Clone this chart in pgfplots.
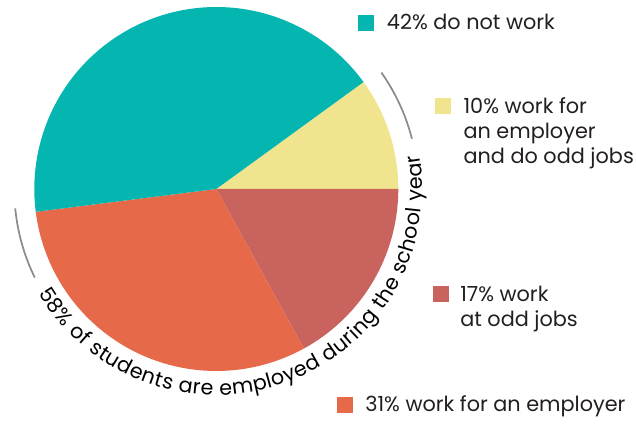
\documentclass[border=0pt]{standalone}
\usepackage{pgfplots}
\pgfplotsset{compat=1.18}
\usepackage{pgfplotstable}
\usepackage{fontspec}
\setmainfont{Poppins}
\usetikzlibrary{decorations.text}

\definecolor{cTeal}{RGB}{4,182,175}
\definecolor{cYellow}{RGB}{241,228,143}
\definecolor{cRed}{RGB}{200,99,93}
\definecolor{cOrange}{RGB}{230,106,74}
\definecolor{cArc}{RGB}{140,140,140}
\definecolor{cText}{RGB}{35,31,32}

\begin{document}
\begin{tikzpicture}[font=\fontsize{15.6}{18.75}\selectfont, text=cText]

  %% shares, clockwise from the teal/yellow border
  \pgfplotstableread{
    share
    10
    17
    31
    42
  }\piedata

  \pgfplotstablegetelem{0}{share}\of\piedata \let\sA\pgfplotsretval
  \pgfplotstablegetelem{1}{share}\of\piedata \let\sB\pgfplotsretval
  \pgfplotstablegetelem{2}{share}\of\piedata \let\sC\pgfplotsretval
  \pgfplotstablegetelem{3}{share}\of\piedata \let\sD\pgfplotsretval

  \def\cx{216.3}
  \def\cy{227}
  \def\rad{182}
  \pgfmathsetmacro\angA{36}
  \pgfmathsetmacro\angB{\angA-3.6*\sA}
  \pgfmathsetmacro\angC{\angB-3.6*\sB}
  \pgfmathsetmacro\angD{\angC-3.6*\sC}
  \pgfmathsetmacro\angE{\angD-3.6*\sD}

  \begin{axis}[
    scale only axis,
    width=477pt, height=312pt,
    xmin=0, xmax=636, ymin=0, ymax=416,
    hide axis, clip=false,
    ]

    \addplot [fill=cYellow, draw=none, domain=\angB:\angA, samples=60, variable=\t]
      ({\cx+\rad*cos(\t)},{\cy+\rad*sin(\t)}) -- (\cx,\cy) -- cycle;
    \addplot [fill=cRed, draw=none, domain=\angC:\angB, samples=60, variable=\t]
      ({\cx+\rad*cos(\t)},{\cy+\rad*sin(\t)}) -- (\cx,\cy) -- cycle;
    \addplot [fill=cOrange, draw=none, domain=\angD:\angC, samples=80, variable=\t]
      ({\cx+\rad*cos(\t)},{\cy+\rad*sin(\t)}) -- (\cx,\cy) -- cycle;
    \addplot [fill=cTeal, draw=none, domain=\angE:\angD, samples=100, variable=\t]
      ({\cx+\rad*cos(\t)},{\cy+\rad*sin(\t)}) -- (\cx,\cy) -- cycle;

    %% brackets for the 58%
    \addplot [cArc, line width=1.3pt, domain=185.5:206, samples=30, variable=\t]
      ({\cx+202*cos(\t)},{\cy+202*sin(\t)});
    \addplot [cArc, line width=1.3pt, domain=14.4:35.2, samples=30, variable=\t]
      ({\cx+202*cos(\t)},{\cy+202*sin(\t)});

    %% legend squares
    \addplot [only marks, mark=square*, mark size=5.6pt, cTeal] coordinates {(365.8,393.2)};
    \addplot [only marks, mark=square*, mark size=5.6pt, cYellow] coordinates {(442.5,310.2)};
    \addplot [only marks, mark=square*, mark size=5.6pt, cRed] coordinates {(440.5,122.2)};
    \addplot [only marks, mark=square*, mark size=5.6pt, cOrange] coordinates {(344.5,11.5)};

    \node [anchor=base west, inner sep=0pt] at (386.7,386) {42\% do not work};
    \node [anchor=base west, align=left, inner sep=0pt] at (463.3,252.7)
      {10\% work for\\an employer\\and do odd jobs};
    \node [anchor=base west, align=left, inner sep=0pt] at (460,89.3)
      {17\% work\\at odd jobs};
    \node [anchor=base west, inner sep=0pt] at (365,4.3) {31\% work for an employer};

    \coordinate (C) at (\cx,\cy);
    \path (0,0) rectangle (636,416);
  \end{axis}

  \path [decorate, decoration={text along path, text align={fit to path},
      text={|\fontsize{15.5}{18}\selectfont|58{\%} of students are employed during the school year}}]
    ([shift={(210.5:154.5pt)}]C) arc [start angle=210.5, end angle=369.6, radius=154.5pt];

\end{tikzpicture}
\end{document}
